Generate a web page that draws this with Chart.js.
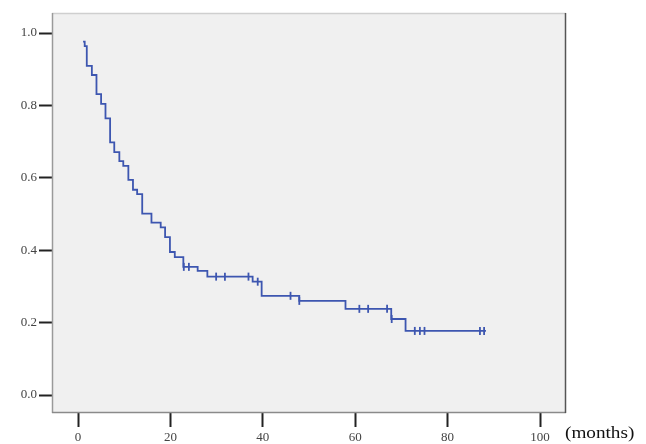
<!DOCTYPE html>
<html>
<head>
  <meta charset="utf-8" />
  <script src="https://cdn.jsdelivr.net/npm/chart.js@4.4.1/dist/chart.umd.min.js"></script>
  <style>
    body { margin: 0; background: #fff; }
    #wrap { position: relative; width: 646px; height: 444px; }
    #unit { position: absolute; left: 565px; top: 425px; font: 16px 'Liberation Serif', 'DejaVu Serif', serif;
            line-height: 16px; color: #111; transform: scaleX(1.2); transform-origin: left top; white-space: nowrap; }
  </style>
</head>
<body>
<div id="wrap">
  <canvas id="km" width="646" height="444"></canvas>
  <span id="unit">(months)</span>
</div>

<script>
/* ---------- Data ---------- */
// step times (months) and survival just after each step; first entry = start of curve
const stepTimes = [1.1, 1.45, 1.9, 3.0, 4.0, 5.0, 5.95, 6.95, 7.85, 8.95, 9.8, 10.9, 11.9, 12.8, 13.9,
                   15.9, 17.9, 18.85, 19.9, 20.95, 22.8, 25.9, 28.0, 37.8, 39.75, 47.9, 57.9, 67.8, 70.9];
const survival  = [0.976, 0.964, 0.909, 0.884, 0.831, 0.804, 0.764, 0.698, 0.671, 0.646, 0.633, 0.594, 0.567, 0.555, 0.501,
                   0.476, 0.463, 0.436, 0.395, 0.381, 0.354, 0.343, 0.327, 0.313, 0.274, 0.260, 0.238, 0.210, 0.177];
const lastTime  = 88.3;
const censorTimes = [22.9, 24.0, 29.9, 31.8, 36.9, 38.9, 46.0, 47.9, 60.9, 62.8, 66.9, 67.9,
                     72.9, 74.0, 75.0, 87.0, 87.9];
const xTicks = [0, 20, 40, 60, 80, 100];
const yTicks = [0.0, 0.2, 0.4, 0.6, 0.8, 1.0];

/* ---------- Build datasets ---------- */
const BLUE = '#3d56b0';
const kmPoints = stepTimes.map((t, i) => ({ x: t, y: survival[i] }));
kmPoints.push({ x: lastTime, y: survival[survival.length - 1] });

function survAt(t){
  let s = survival[0];
  stepTimes.forEach((st, i) => { if (st <= t) s = survival[i]; });
  return s;
}
const censorPoints = censorTimes.map(t => ({ x: t, y: survAt(t) }));

/* ---------- Frame plugin ---------- */
const framePlugin = {
  id: 'frame',
  beforeDatasetsDraw(chart){
    const { ctx, chartArea: a } = chart;
    ctx.save();
    ctx.fillStyle = '#f0f0f0';
    ctx.fillRect(a.left, a.top, a.right - a.left, a.bottom - a.top);
    const edge = (x1, y1, x2, y2, c, w) => {
      ctx.strokeStyle = c; ctx.lineWidth = w;
      ctx.beginPath(); ctx.moveTo(x1, y1); ctx.lineTo(x2, y2); ctx.stroke();
    };
    edge(a.left, a.top + 0.5, a.right, a.top + 0.5, '#cfcfcf', 1.5);
    edge(a.left + 0.5, a.top, a.left + 0.5, a.bottom, '#9a9a9a', 1.5);
    edge(a.left, a.bottom - 0.5, a.right, a.bottom - 0.5, '#8a8a8a', 1.5);
    edge(a.right - 0.5, a.top, a.right - 0.5, a.bottom, '#555', 1.5);
    ctx.restore();
  }
};

/* ---------- Chart ---------- */
const tickFont = { family: "'Liberation Serif', 'DejaVu Serif', serif", size: 13 };
const gridOpts = (len) => ({ drawOnChartArea: false, drawTicks: true, tickLength: len, tickWidth: 2, tickColor: '#222' });

new Chart(document.getElementById('km'), {
  type: 'scatter',
  data: {
    datasets: [
      { type: 'line', data: kmPoints, stepped: true, borderColor: BLUE, borderWidth: 1.8,
        pointRadius: 0, fill: false, order: 2 },
      { type: 'scatter', data: censorPoints, pointStyle: 'line', rotation: 90, pointRadius: 4,
        borderColor: BLUE, backgroundColor: BLUE, pointBorderWidth: 1.8, order: 1 }
    ]
  },
  options: {
    responsive: false, animation: false, events: [],
    layout: { padding: { top: 13, right: 80, bottom: 0, left: 0 } },
    plugins: { legend: { display: false }, tooltip: { enabled: false } },
    scales: {
      x: {
        type: 'linear', min: -26 / 4.62, max: 100 + 26 / 4.62,
        afterBuildTicks: s => { s.ticks = xTicks.map(v => ({ value: v })); },
        afterFit: s => { s.height = 31; },
        grid: gridOpts(14), border: { display: false },
        ticks: { font: tickFont, color: '#444', padding: 3, maxRotation: 0, callback: v => String(v) }
      },
      y: {
        type: 'linear', min: -18 / 362, max: 1 + 20 / 362,
        afterBuildTicks: s => { s.ticks = yTicks.map(v => ({ value: v })); },
        afterFit: s => { s.width = 52; },
        grid: gridOpts(13), border: { display: false },
        ticks: { font: tickFont, color: '#444', padding: 2, callback: v => v.toFixed(1) }
      }
    }
  },
  plugins: [framePlugin]
});
</script>
</body>
</html>
